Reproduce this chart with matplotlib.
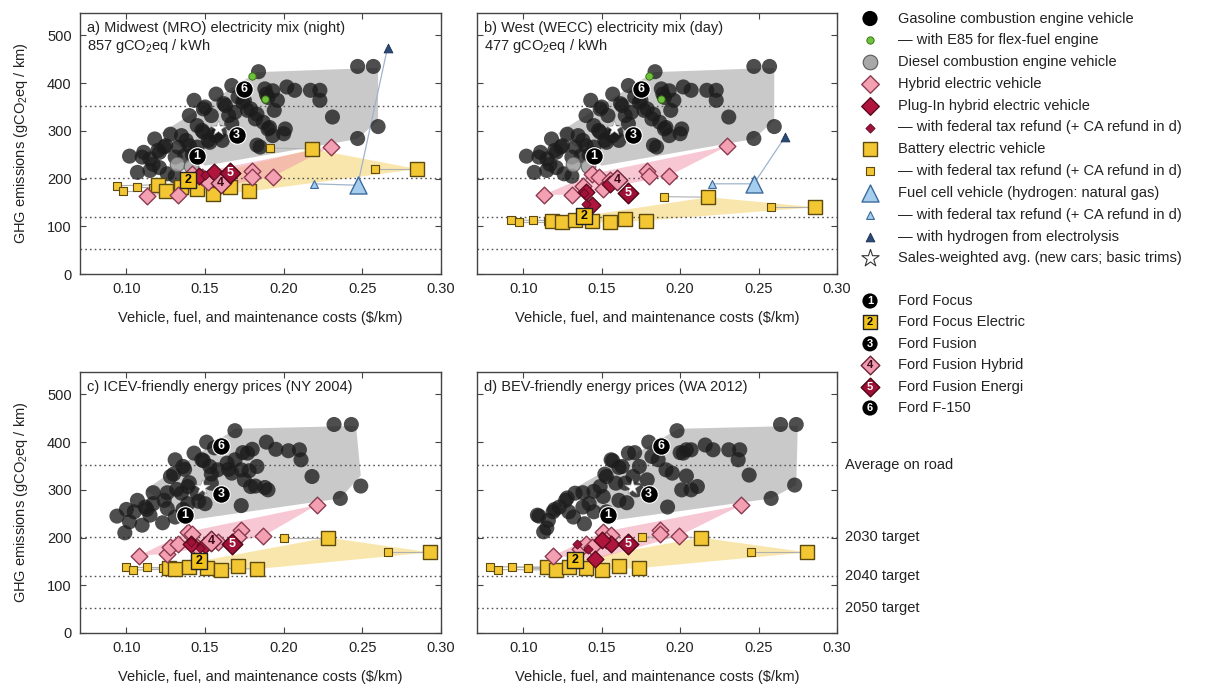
import matplotlib
matplotlib.use('Agg')
import matplotlib.pyplot as plt
from matplotlib.patches import Polygon
import matplotlib.transforms as mtransforms
import numpy as np

plt.rcParams['font.family'] = ['Liberation Sans', 'DejaVu Sans']
plt.rcParams['mathtext.fontset'] = 'custom'
plt.rcParams['mathtext.rm'] = 'Liberation Sans'
plt.rcParams['mathtext.it'] = 'Liberation Sans'
plt.rcParams['font.size'] = 10

# ---------------- data ----------------
target_levels = [353, 202, 120, 52]
target_labels = ["Average on road", "2030 target", "2040 target", "2050 target"]
xticks = [0.10, 0.15, 0.20, 0.25, 0.30]
yticks = [0, 100, 200, 300, 400, 500]

panel_titles = ["a) Midwest (MRO) electricity mix (night)\n857 gCO$_2$eq / kWh",
                "b) West (WECC) electricity mix (day)\n477 gCO$_2$eq / kWh",
                "c) ICEV-friendly energy prices (NY 2004)",
                "d) BEV-friendly energy prices (WA 2012)"]

# gasoline vehicles (panels a and b share the same ICEV values)
gas_ab_x = [0.102, 0.107, 0.110, 0.111, 0.115, 0.115, 0.117, 0.118, 0.120, 0.121, 0.121, 0.124, 0.125, 0.126,
            0.128, 0.131, 0.131, 0.133, 0.135, 0.137, 0.138, 0.140, 0.140, 0.142, 0.143, 0.145, 0.145, 0.145,
            0.148, 0.149, 0.149, 0.150, 0.152, 0.153, 0.154, 0.156, 0.157, 0.157, 0.159, 0.161, 0.162, 0.163,
            0.165, 0.167, 0.167, 0.169, 0.171, 0.174, 0.175, 0.177, 0.179, 0.182, 0.183, 0.184, 0.183, 0.185,
            0.187, 0.189, 0.190, 0.191, 0.193, 0.193, 0.194, 0.196, 0.200, 0.201, 0.202, 0.207, 0.217, 0.223,
            0.223, 0.231, 0.247, 0.257, 0.260, 0.247, 0.188, 0.190]
gas_ab_y = [247, 213, 245, 255, 241, 217, 230, 283, 259, 223, 255, 266, 269, 210,
            293, 245, 205, 266, 290, 248, 280, 332, 269, 250, 364, 311, 266, 252,
            301, 346, 297, 350, 280, 276, 332, 294, 377, 290, 297, 280, 357, 353,
            332, 395, 315, 339, 371, 360, 364, 343, 346, 325, 335, 424, 270, 266,
            318, 377, 304, 307, 384, 290, 343, 364, 294, 304, 392, 385, 385, 385,
            364, 329, 435, 435, 309, 284, 388, 370]
gas_c_x = [0.094, 0.099, 0.100, 0.102, 0.105, 0.107, 0.110, 0.112, 0.113, 0.115, 0.117, 0.117, 0.123, 0.124,
           0.126, 0.126, 0.128, 0.130, 0.131, 0.131, 0.132, 0.135, 0.136, 0.136, 0.137, 0.139, 0.139, 0.140,
           0.143, 0.145, 0.146, 0.148, 0.149, 0.150, 0.151, 0.153, 0.154, 0.154, 0.156, 0.158, 0.164, 0.165,
           0.167, 0.169, 0.169, 0.173, 0.173, 0.174, 0.175, 0.177, 0.178, 0.179, 0.180, 0.182, 0.183, 0.188,
           0.189, 0.190, 0.195, 0.203, 0.210, 0.211, 0.218, 0.232, 0.243, 0.236, 0.249]
gas_c_y = [245, 210, 259, 233, 254, 278, 226, 264, 259, 247, 271, 294, 231, 278,
           261, 294, 328, 333, 363, 243, 301, 293, 349, 259, 343, 307, 271, 315,
           377, 293, 276, 363, 361, 271, 400, 349, 314, 333, 388, 342, 356, 343,
           335, 424, 363, 342, 267, 378, 321, 377, 340, 307, 385, 308, 349, 305,
           400, 300, 385, 382, 384, 363, 328, 437, 437, 282, 308]
gas_d_x = [0.109, 0.110, 0.113, 0.115, 0.116, 0.119, 0.120, 0.123, 0.127, 0.128, 0.129, 0.132, 0.133, 0.138,
           0.138, 0.139, 0.142, 0.145, 0.145, 0.149, 0.151, 0.152, 0.153, 0.153, 0.156, 0.157, 0.159, 0.161,
           0.161, 0.163, 0.165, 0.166, 0.167, 0.170, 0.171, 0.172, 0.174, 0.179, 0.180, 0.182, 0.186, 0.191,
           0.192, 0.195, 0.198, 0.200, 0.201, 0.202, 0.204, 0.204, 0.207, 0.207, 0.211, 0.216, 0.221, 0.231,
           0.238, 0.237, 0.244, 0.258, 0.264, 0.274, 0.273]
gas_d_y = [247, 245, 212, 220, 236, 254, 259, 264, 278, 283, 254, 243, 293, 264,
           294, 229, 271, 254, 297, 307, 286, 333, 328, 254, 363, 361, 314, 278,
           347, 349, 314, 273, 377, 328, 378, 300, 349, 321, 400, 370, 363, 342,
           264, 335, 424, 378, 300, 377, 384, 329, 384, 300, 307, 394, 384, 384,
           384, 363, 331, 282, 437, 437, 310]

# E85 flex-fuel and diesel (panels a, b)
e85_x = [0.180, 0.188]
e85_y = [416, 367]
diesel_x = [0.132, 0.141]
diesel_y = [231, 227]

# ICEV hull (grey area)
hull_ab_x = [0.122, 0.183, 0.260, 0.260, 0.247, 0.150]
hull_ab_y = [295, 423, 432, 322, 283, 227]
hull_c_x = [0.112, 0.169, 0.246, 0.249, 0.236, 0.139]
hull_c_y = [300, 428, 434, 330, 282, 236]
hull_d_x = [0.132, 0.199, 0.275, 0.274, 0.258, 0.157]
hull_d_y = [302, 428, 434, 310, 282, 236]

# Hybrid electric vehicles
hev_a_x = [0.113, 0.133, 0.148, 0.156, 0.180, 0.180, 0.193, 0.230, 0.142, 0.152]
hev_a_y = [164, 166, 203, 210, 215, 203, 204, 267, 210, 192]
hev_b_x = [0.113, 0.131, 0.144, 0.148, 0.138, 0.151, 0.179, 0.180, 0.193, 0.230, 0.155]
hev_b_y = [166, 166, 210, 203, 185, 178, 215, 206, 206, 268, 196]
hev_c_x = [0.108, 0.126, 0.128, 0.133, 0.139, 0.142, 0.145, 0.158, 0.173, 0.171, 0.187, 0.221]
hev_c_y = [162, 166, 180, 187, 212, 208, 180, 191, 215, 201, 203, 268]
hev_d_x = [0.119, 0.136, 0.140, 0.144, 0.151, 0.156, 0.153, 0.187, 0.187, 0.199, 0.239]
hev_d_y = [162, 177, 187, 180, 212, 205, 194, 215, 207, 203, 268]

hev_hull_a_x = [0.113, 0.133, 0.193, 0.230, 0.142]
hev_hull_a_y = [164, 166, 204, 267, 210]
hev_hull_b_x = [0.113, 0.131, 0.193, 0.230, 0.144]
hev_hull_b_y = [166, 166, 206, 268, 210]
hev_hull_c_x = [0.108, 0.126, 0.187, 0.221, 0.139]
hev_hull_c_y = [162, 166, 203, 268, 212]
hev_hull_d_x = [0.119, 0.146, 0.199, 0.239, 0.151]
hev_hull_d_y = [162, 155, 203, 268, 212]

# Plug-in hybrids and their tax-refund variants
phev_a_x = [0.146, 0.156]
phev_a_y = [205, 213]
phev_b_x = [0.155, 0.140, 0.144]
phev_b_y = [189, 171, 145]
phev_c_x = [0.141, 0.150]
phev_c_y = [187, 185]
phev_d_x = [0.156, 0.146, 0.150]
phev_d_y = [187, 155, 195]
phev_ref_a_x = [0.150]
phev_ref_a_y = [208]
phev_ref_b_x = [0.139, 0.140]
phev_ref_b_y = [169, 147]
phev_ref_c_x = [0.141, 0.147]
phev_ref_c_y = [190, 178]
phev_ref_d_x = [0.134, 0.141]
phev_ref_d_y = [187, 175]

# Battery electric vehicles (first entries pair with the refund entries)
bev_a_x = [0.120, 0.125, 0.135, 0.145, 0.218, 0.285, 0.140, 0.155, 0.166, 0.178]
bev_a_y = [187, 173, 182, 178, 262, 220, 197, 168, 182, 173]
bev_ref_a_x = [0.094, 0.098, 0.107, 0.117, 0.191, 0.258]
bev_ref_a_y = [185, 173, 182, 180, 264, 220]
bev_b_x = [0.118, 0.125, 0.133, 0.144, 0.218, 0.286, 0.139, 0.155, 0.165, 0.178]
bev_b_y = [112, 108, 113, 112, 161, 140, 122, 108, 115, 112]
bev_ref_b_x = [0.092, 0.097, 0.106, 0.116, 0.190, 0.258]
bev_ref_b_y = [113, 108, 113, 112, 162, 140]
bev_c_x = [0.127, 0.131, 0.140, 0.151, 0.183, 0.228, 0.293, 0.146, 0.160, 0.171]
bev_c_y = [136, 134, 138, 136, 134, 200, 169, 150, 132, 141]
bev_ref_c_x = [0.100, 0.104, 0.113, 0.123, 0.157, 0.200, 0.266]
bev_ref_c_y = [138, 132, 138, 136, 136, 200, 169]
bev_d_x = [0.115, 0.121, 0.129, 0.140, 0.213, 0.281, 0.133, 0.150, 0.161, 0.174]
bev_d_y = [138, 132, 139, 136, 200, 169, 152, 132, 140, 136]
bev_ref_d_x = [0.079, 0.084, 0.093, 0.103, 0.176, 0.245]
bev_ref_d_y = [139, 133, 139, 136, 201, 169]

bev_hull_a_x = [0.120, 0.125, 0.155, 0.178, 0.285, 0.218, 0.140]
bev_hull_a_y = [187, 173, 168, 173, 220, 262, 197]
bev_hull_b_x = [0.118, 0.125, 0.155, 0.178, 0.286, 0.218, 0.139]
bev_hull_b_y = [112, 108, 108, 112, 140, 161, 122]
bev_hull_c_x = [0.131, 0.160, 0.183, 0.293, 0.228, 0.146]
bev_hull_c_y = [134, 132, 134, 169, 200, 150]
bev_hull_d_x = [0.115, 0.121, 0.150, 0.174, 0.281, 0.213, 0.133]
bev_hull_d_y = [138, 132, 132, 136, 169, 200, 152]

# Fuel cell vehicles: [natural gas, with refund, electrolysis]
fcv_a_x = [0.247, 0.219, 0.266]
fcv_a_y = [186, 189, 474]
fcv_b_x = [0.247, 0.220, 0.267]
fcv_b_y = [189, 189, 288]

# Sales-weighted average
star_x = [0.158, 0.158, 0.148, 0.169]
star_y = [306, 306, 307, 307]

# Ford models 1..6 per panel (nan = hidden in that panel)
ford1_x = [0.145, 0.145, 0.137, 0.154]
ford1_y = [247, 247, 247, 247]
ford2_x = [0.139, 0.139, 0.146, 0.133]
ford2_y = [197, 122, 150, 152]
ford3_x = [0.170, 0.170, 0.160, 0.180]
ford3_y = [292, 292, 291, 291]
ford4_x = [0.160, 0.160, 0.154, np.nan]
ford4_y = [190, 196, 193, np.nan]
ford5_x = [0.166, 0.167, 0.167, 0.167]
ford5_y = [212, 170, 187, 187]
ford6_x = [0.175, 0.175, 0.160, 0.188]
ford6_y = [388, 388, 391, 391]

legend1_labels = ["Gasoline combustion engine vehicle",
                  "\u2014 with E85 for flex-fuel engine",
                  "Diesel combustion engine vehicle",
                  "Hybrid electric vehicle",
                  "Plug-In hybrid electric vehicle",
                  "\u2014 with federal tax refund (+ CA refund in d)",
                  "Battery electric vehicle",
                  "\u2014 with federal tax refund (+ CA refund in d)",
                  "Fuel cell vehicle (hydrogen: natural gas)",
                  "\u2014 with federal tax refund (+ CA refund in d)",
                  "\u2014 with hydrogen from electrolysis",
                  "Sales-weighted avg. (new cars; basic trims)"]
legend2_labels = ["Ford Focus", "Ford Focus Electric", "Ford Fusion",
                  "Ford Fusion Hybrid", "Ford Fusion Energi", "Ford F-150"]

# ---------------- styles ----------------
GAS = dict(marker='o', s=118, c='#1c1c1c', alpha=0.78, edgecolors='none')
E85 = dict(marker='o', s=28, c='#6fc13a', edgecolors='#2f6a12', linewidths=0.6)
DIESEL = dict(marker='o', s=110, c='#9e9e9e', edgecolors='#5a5a5a', linewidths=0.8, alpha=0.85)
HEV = dict(marker='D', s=72, c='#f4a0b3', edgecolors='#8c3a50', linewidths=1.0)
PHEV = dict(marker='D', s=72, c='#b0163d', edgecolors='#5a0a1e', linewidths=1.0)
PHEVR = dict(marker='D', s=22, c='#a0123a', edgecolors='#5a0a1e', linewidths=0.6)
BEV = dict(marker='s', s=95, c='#f3c634', edgecolors='#5c4a0e', linewidths=1.0)
BEVR = dict(marker='s', s=26, c='#f3c634', edgecolors='#5c4a0e', linewidths=0.8)
FCV = dict(marker='^', s=150, c='#a5cdee', edgecolors='#3c6a9c', linewidths=1.0)
FCVR = dict(marker='^', s=32, c='#a5cdee', edgecolors='#3c6a9c', linewidths=0.8)
ELEC = dict(marker='^', s=40, c='#2a4a78', edgecolors='#1a2e4e', linewidths=0.6)
STAR = dict(marker='*', s=130, c='white', edgecolors='#999999', linewidths=0.4)
SPINE = '#444444'

fig = plt.figure(figsize=(12.11, 6.89), dpi=100)
W, H = 1211.0, 689.0


def px_axes(left, top, right, bottom):
    return fig.add_axes([left / W, 1 - bottom / H, (right - left) / W, (bottom - top) / H])


ax_a = px_axes(80, 13, 441, 274)
ax_b = px_axes(477, 13, 837, 274)
ax_c = px_axes(80, 372, 441, 633)
ax_d = px_axes(477, 372, 837, 633)
axes = [ax_a, ax_b, ax_c, ax_d]

panels = [
    dict(gx=gas_ab_x, gy=gas_ab_y, hx=hull_ab_x, hy=hull_ab_y, e85=True,
         hev=(hev_a_x, hev_a_y), hevh=(hev_hull_a_x, hev_hull_a_y),
         phev=(phev_a_x, phev_a_y), phevr=(phev_ref_a_x, phev_ref_a_y),
         bev=(bev_a_x, bev_a_y), bevr=(bev_ref_a_x, bev_ref_a_y), bevh=(bev_hull_a_x, bev_hull_a_y),
         fcv=(fcv_a_x, fcv_a_y)),
    dict(gx=gas_ab_x, gy=gas_ab_y, hx=hull_ab_x, hy=hull_ab_y, e85=True,
         hev=(hev_b_x, hev_b_y), hevh=(hev_hull_b_x, hev_hull_b_y),
         phev=(phev_b_x, phev_b_y), phevr=(phev_ref_b_x, phev_ref_b_y),
         bev=(bev_b_x, bev_b_y), bevr=(bev_ref_b_x, bev_ref_b_y), bevh=(bev_hull_b_x, bev_hull_b_y),
         fcv=(fcv_b_x, fcv_b_y)),
    dict(gx=gas_c_x, gy=gas_c_y, hx=hull_c_x, hy=hull_c_y, e85=False,
         hev=(hev_c_x, hev_c_y), hevh=(hev_hull_c_x, hev_hull_c_y),
         phev=(phev_c_x, phev_c_y), phevr=(phev_ref_c_x, phev_ref_c_y),
         bev=(bev_c_x, bev_c_y), bevr=(bev_ref_c_x, bev_ref_c_y), bevh=(bev_hull_c_x, bev_hull_c_y),
         fcv=None),
    dict(gx=gas_d_x, gy=gas_d_y, hx=hull_d_x, hy=hull_d_y, e85=False,
         hev=(hev_d_x, hev_d_y), hevh=(hev_hull_d_x, hev_hull_d_y),
         phev=(phev_d_x, phev_d_y), phevr=(phev_ref_d_x, phev_ref_d_y),
         bev=(bev_d_x, bev_d_y), bevr=(bev_ref_d_x, bev_ref_d_y), bevh=(bev_hull_d_x, bev_hull_d_y),
         fcv=None),
]


def num_marker(ax, x, y, n, kind):
    if np.isnan(x):
        return
    if kind == 'circle':
        ax.scatter([x], [y], marker='o', s=160, c='black', edgecolors='white', linewidths=0.8, zorder=9)
        col = 'white'
    elif kind == 'square':
        ax.scatter([x], [y], marker='s', s=130, c='#f2c21c', edgecolors='#222222', linewidths=1.0, zorder=9)
        col = 'black'
    elif kind == 'hev':
        ax.scatter([x], [y], marker='D', s=110, c='#f09ab0', edgecolors='#6a2236', linewidths=1.0, zorder=9)
        col = '#3a0a18'
    else:
        ax.scatter([x], [y], marker='D', s=110, c='#9e1036', edgecolors='#4a0616', linewidths=1.0, zorder=9)
        col = 'white'
    ax.text(x, y, str(n), color=col, fontsize=9, fontweight='bold', ha='center', va='center', zorder=10)


for i, (ax, P) in enumerate(zip(axes, panels)):
    ax.set_xlim(0.0705, 0.300)
    ax.set_ylim(0, 547)
    # shaded hulls
    ax.add_patch(Polygon(np.column_stack([P['hx'], P['hy']]), closed=True, fc='#c9c9c9', ec='none', zorder=1))
    ax.add_patch(Polygon(np.column_stack(P['bevh']), closed=True, fc='#f5cf5a', ec='none', alpha=0.5, zorder=1.1))
    ax.add_patch(Polygon(np.column_stack(P['hevh']), closed=True, fc='#f093ab', ec='none', alpha=0.5, zorder=1.2))
    for v in target_levels:
        ax.axhline(v, color='#555555', lw=1.0, ls=(0, (1.2, 2.2)), zorder=1.5)
    ax.scatter(P['gx'], P['gy'], zorder=3, **GAS)
    if P['e85']:
        ax.scatter(diesel_x, diesel_y, zorder=3.2, **DIESEL)
        ax.scatter(e85_x, e85_y, zorder=3.5, **E85)
    # BEV refund links
    bx, by = P['bev']
    rx, ry = P['bevr']
    for k in range(len(rx)):
        ax.plot([rx[k], bx[k]], [ry[k], by[k]], color='#b0b0b0', lw=0.8, zorder=2.5)
    ax.scatter(rx, ry, zorder=4, **BEVR)
    ax.scatter(bx, by, zorder=4.2, **BEV)
    ax.scatter(*P['hev'], zorder=5, **HEV)
    ax.scatter(*P['phev'], zorder=5.5, **PHEV)
    ax.scatter(*P['phevr'], zorder=5.6, **PHEVR)
    if P['fcv'] is not None:
        fx, fy = P['fcv']
        ax.plot([fx[1], fx[0], fx[2]], [fy[1], fy[0], fy[2]], color='#9fb4cc', lw=0.9, zorder=2.5)
        ax.scatter([fx[0]], [fy[0]], zorder=6, **FCV)
        ax.scatter([fx[1]], [fy[1]], zorder=6, **FCVR)
        ax.scatter([fx[2]], [fy[2]], zorder=6, **ELEC)
    ax.scatter([star_x[i]], [star_y[i]], zorder=8, **STAR)
    num_marker(ax, ford1_x[i], ford1_y[i], 1, 'circle')
    num_marker(ax, ford3_x[i], ford3_y[i], 3, 'circle')
    num_marker(ax, ford6_x[i], ford6_y[i], 6, 'circle')
    num_marker(ax, ford2_x[i], ford2_y[i], 2, 'square')
    num_marker(ax, ford4_x[i], ford4_y[i], 4, 'hev')
    num_marker(ax, ford5_x[i], ford5_y[i], 5, 'phev')

    ax.set_xticks(xticks)
    ax.set_xticklabels(["%.2f" % t for t in xticks])
    ax.set_yticks(yticks)
    ax.tick_params(direction='in', top=True, right=True, length=4, width=0.8, color=SPINE,
                   labelsize=10.5, labelcolor='#222222', pad=6)
    for s in ax.spines.values():
        s.set_color(SPINE)
        s.set_linewidth(1.0)
    if i in (1, 3):
        ax.set_yticklabels([])
    else:
        ax.set_ylabel("GHG emissions (gCO$_2$eq / km)", fontsize=10.5, color='#222222')
        ax.yaxis.set_label_coords(-0.138, 0.5)
    ax.set_xlabel("Vehicle, fuel, and maintenance costs ($/km)", fontsize=10.5, color='#222222')
    ax.xaxis.set_label_coords(0.5, -0.14)
    ax.text(0.019, 0.968, panel_titles[i], transform=ax.transAxes, ha='left', va='top',
            fontsize=10.5, color='#222222', linespacing=1.15, zorder=12)

# labels for target lines on the right of panel d
tr = mtransforms.blended_transform_factory(ax_d.transAxes, ax_d.transData)
for v, lab in zip(target_levels, target_labels):
    ax_d.text(1.022, v, lab, transform=tr, ha='left', va='center', fontsize=10.5, color='#222222')

# ---------------- legend ----------------
lax = fig.add_axes([0, 0, 1, 1], facecolor='none')
lax.set_xlim(0, W)
lax.set_ylim(H, 0)
lax.axis('off')
lx, tx = 870, 898
row0, step = 18.5, 21.8
leg_styles = [
    dict(marker='o', s=120, c='black', edgecolors='none'),
    dict(marker='o', s=28, c='#6fc13a', edgecolors='#2f6a12', linewidths=0.6),
    dict(marker='o', s=110, c='#a8a8a8', edgecolors='#5a5a5a', linewidths=0.8),
    dict(marker='D', s=80, c='#f4a0b3', edgecolors='#8c3a50', linewidths=1.0),
    dict(marker='D', s=80, c='#b0163d', edgecolors='#5a0a1e', linewidths=1.0),
    dict(marker='D', s=22, c='#a0123a', edgecolors='#5a0a1e', linewidths=0.6),
    dict(marker='s', s=95, c='#f3c634', edgecolors='#5c4a0e', linewidths=1.0),
    dict(marker='s', s=26, c='#f3c634', edgecolors='#5c4a0e', linewidths=0.8),
    dict(marker='^', s=150, c='#a5cdee', edgecolors='#3c6a9c', linewidths=1.0),
    dict(marker='^', s=32, c='#a5cdee', edgecolors='#3c6a9c', linewidths=0.8),
    dict(marker='^', s=40, c='#2a4a78', edgecolors='#1a2e4e', linewidths=0.6),
    dict(marker='*', s=170, c='white', edgecolors='#333333', linewidths=0.8),
]
for k, (lab, st) in enumerate(zip(legend1_labels, leg_styles)):
    y = row0 + k * step
    lax.scatter([lx], [y], clip_on=False, **st)
    lax.text(tx, y, lab, ha='left', va='center', fontsize=10.5, color='#222222')

row1, step2 = 301, 21.4
kinds = ['circle', 'square', 'circle', 'hev', 'phev', 'circle']
for k, (lab, kind) in enumerate(zip(legend2_labels, kinds)):
    y = row1 + k * step2
    if kind == 'circle':
        lax.scatter([lx], [y], marker='o', s=120, c='black', edgecolors='none', clip_on=False)
        col = 'white'
    elif kind == 'square':
        lax.scatter([lx], [y], marker='s', s=95, c='#f2c21c', edgecolors='#222222', linewidths=1.0, clip_on=False)
        col = 'black'
    elif kind == 'hev':
        lax.scatter([lx], [y], marker='D', s=90, c='#f09ab0', edgecolors='#6a2236', linewidths=1.0, clip_on=False)
        col = '#3a0a18'
    else:
        lax.scatter([lx], [y], marker='D', s=90, c='#9e1036', edgecolors='#4a0616', linewidths=1.0, clip_on=False)
        col = 'white'
    lax.text(lx, y, str(k + 1), color=col, fontsize=8, fontweight='bold', ha='center', va='center')
    lax.text(tx, y, lab, ha='left', va='center', fontsize=10.5, color='#222222')

fig.savefig('out.png', dpi=100)
